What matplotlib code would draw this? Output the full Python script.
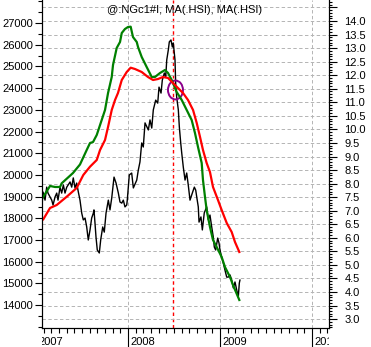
#!/usr/bin/env python3
"""Natural gas front month against two Hang Seng moving averages."""

import matplotlib

matplotlib.use("Agg")
import matplotlib.pyplot as plt
import numpy as np
from matplotlib.patches import Ellipse
from matplotlib.ticker import FixedLocator, MultipleLocator
from matplotlib.transforms import Bbox, TransformedBbox, blended_transform_factory

plt.rcParams["font.family"] = ["Liberation Sans", "DejaVu Sans"]

# time is in decimal years
ma_fast_t = [2007.062, 2007.152, 2007.207, 2007.261, 2007.279, 2007.402, 2007.478, 2007.551,
             2007.587, 2007.620, 2007.660, 2007.714, 2007.750, 2007.783, 2007.823, 2007.837,
             2007.877, 2007.913, 2007.932, 2007.967, 2008.000, 2008.029, 2008.054, 2008.095,
             2008.109, 2008.149, 2008.203, 2008.258, 2008.293, 2008.348, 2008.402, 2008.435,
             2008.475, 2008.529, 2008.584, 2008.638, 2008.692, 2008.728, 2008.761, 2008.801,
             2008.815, 2008.837, 2008.855, 2008.891, 2008.924, 2008.964, 2009.018, 2009.054,
             2009.109, 2009.141, 2009.210]
ma_fast = [18876, 19489, 19443, 19443, 19613, 20088, 20480, 21148,
           21470, 21516, 21839, 22530, 22991, 23774, 24512, 25065,
           25848, 26124, 26539, 26724, 26816, 26830, 26355, 26124,
           25894, 25433, 24972, 24512, 24512, 24696, 24834, 24696,
           24373, 23820, 23452, 22991, 22530, 21931, 21286, 20549,
           19765, 18982, 18383, 17600, 17001, 16678, 16217, 15756,
           15296, 14927, 14236]

ma_slow_t = [2007.079, 2007.152, 2007.225, 2007.334, 2007.442, 2007.514, 2007.587, 2007.660,
             2007.696, 2007.750, 2007.783, 2007.823, 2007.859, 2007.891, 2007.932, 2007.986,
             2008.029, 2008.076, 2008.149, 2008.217, 2008.272, 2008.326, 2008.380, 2008.435,
             2008.489, 2008.543, 2008.598, 2008.652, 2008.707, 2008.747, 2008.783, 2008.815,
             2008.855, 2008.891, 2008.924, 2008.978, 2009.018, 2009.073, 2009.127, 2009.163,
             2009.210]
ma_slow = [17954, 18475, 18613, 18996, 19397, 19996, 20378, 20687,
           21148, 21609, 22208, 22991, 23452, 23774, 24373, 24742,
           24940, 24880, 24742, 24512, 24373, 24419, 24512, 24466,
           24235, 24005, 23774, 23452, 22991, 22392, 21747, 21148,
           20549, 20134, 19443, 18844, 18383, 17784, 17369, 16908,
           16448]

ng_t = [2007.062, 2007.076, 2007.098, 2007.116, 2007.130, 2007.171, 2007.185, 2007.207,
        2007.225, 2007.239, 2007.261, 2007.279, 2007.297, 2007.315, 2007.334, 2007.370,
        2007.388, 2007.405, 2007.424, 2007.442, 2007.460, 2007.478, 2007.497, 2007.514,
        2007.533, 2007.551, 2007.568, 2007.587, 2007.605, 2007.623, 2007.630, 2007.641,
        2007.652, 2007.666, 2007.688, 2007.703, 2007.725, 2007.742, 2007.761, 2007.786,
        2007.804, 2007.823, 2007.848, 2007.870, 2007.895, 2007.913, 2007.932, 2007.949,
        2007.967, 2007.986, 2007.992, 2008.014, 2008.040, 2008.058, 2008.095, 2008.112,
        2008.130, 2008.149, 2008.166, 2008.185, 2008.221, 2008.239, 2008.258, 2008.275,
        2008.301, 2008.323, 2008.337, 2008.359, 2008.373, 2008.395, 2008.410, 2008.421,
        2008.438, 2008.449, 2008.467, 2008.482, 2008.492, 2008.511, 2008.518, 2008.529,
        2008.547, 2008.558, 2008.573, 2008.584, 2008.601, 2008.620, 2008.638, 2008.655,
        2008.674, 2008.699, 2008.721, 2008.736, 2008.747, 2008.764, 2008.772, 2008.793,
        2008.808, 2008.829, 2008.855, 2008.873, 2008.891, 2008.910, 2008.927, 2008.938,
        2008.953, 2008.975, 2008.989, 2009.000, 2009.018, 2009.036, 2009.054, 2009.073,
        2009.090, 2009.109, 2009.127, 2009.145, 2009.163, 2009.182, 2009.199, 2009.210,
        2009.217]
ng = [7.03, 7.69, 7.39, 7.87, 7.65, 7.39, 7.21, 7.51,
      7.65, 7.39, 7.87, 7.65, 7.95, 7.65, 7.87, 8.06,
      7.87, 8.21, 7.84, 8.02, 7.69, 7.39, 6.91, 6.66,
      6.73, 6.40, 5.92, 6.29, 6.73, 6.91, 7.03, 6.55,
      6.03, 5.55, 5.44, 5.92, 6.40, 6.21, 6.91, 7.39,
      7.03, 7.47, 8.24, 8.02, 7.65, 7.32, 7.28, 7.39,
      7.14, 7.21, 7.39, 8.32, 8.39, 7.84, 8.13, 8.50,
      8.80, 9.50, 9.35, 10.24, 9.98, 10.35, 10.05, 10.72,
      11.08, 10.97, 11.56, 11.34, 11.82, 12.08, 11.93, 12.56,
      12.93, 13.23, 13.30, 13.04, 13.19, 12.56, 11.71, 11.20,
      10.72, 10.09, 9.50, 9.13, 8.61, 8.13, 8.39, 7.95,
      7.39, 7.65, 7.87, 7.76, 7.51, 7.14, 6.58, 6.77,
      6.29, 6.92, 7.14, 6.66, 6.84, 6.40, 6.03, 5.66,
      5.55, 5.99, 5.81, 5.55, 5.29, 5.07, 4.81, 4.55,
      4.55, 4.63, 4.44, 4.15, 4.37, 4.07, 3.82, 4.33,
      4.44]

title = "@:NGc1#I, MA(.HSI), MA(.HSI)"
years = [2007, 2008, 2009, 2010]
marker_t = 2008.492          # red dashed line
circle_t, circle_v = 2008.516, 23913  # purple ring where the averages cross

fig = plt.figure(figsize=(3.71, 3.47), dpi=100)
ax = fig.add_axes([42 / 371, 1 - 328 / 347, 287 / 371, 328 / 347])
ax2 = ax.twinx()
ax.set_zorder(ax2.get_zorder() + 1)
ax.patch.set_visible(False)

GRID = dict(color="#b4b4b4", lw=0.7, linestyle=(0, (3.5, 2.5)), zorder=0)
for yr in years:
    ax2.axvline(yr, **GRID)
ax2.set_yticks(np.arange(3.0, 14.51, 0.5))
ax2.yaxis.grid(True, **GRID)
ax2.axvline(marker_t, color="red", lw=1.0, linestyle=(0, (2.5, 2)), zorder=1)

ax2.plot(ng_t, ng, color="black", lw=1.0, zorder=2)
ax.plot(ma_fast_t, ma_fast, color="#008000", lw=1.6)
ax.plot(ma_slow_t, ma_slow, color="#ff0000", lw=1.6)
ax.add_patch(Ellipse((circle_t, circle_v), 0.163, 870, fill=False, ec="#8b008b", lw=1.4))

ax.set_xlim(2007.065, 2010.185)
ax.set_ylim(12945, 28060)
ax2.set_ylim(2.672, 14.775)

# x axis: long year ticks, short month ticks, labels drawn by hand
ax.xaxis.set_major_locator(FixedLocator(years))
ax.xaxis.set_minor_locator(MultipleLocator(1 / 12))
ax.tick_params(axis="x", which="major", length=14, width=0.8, labelbottom=False)
ax.tick_params(axis="x", which="minor", length=3.6, width=0.8)

ax.yaxis.set_major_locator(MultipleLocator(1000))
ax.yaxis.set_minor_locator(MultipleLocator(500))
ax.set_yticks(np.arange(14000, 27001, 1000))
ax.tick_params(axis="y", which="major", length=5, width=0.8, pad=1.5, labelsize=8)
ax.tick_params(axis="y", which="minor", length=3, width=0.8)

ax2.yaxis.set_minor_locator(MultipleLocator(0.1))
ax2.set_yticklabels([f"{v:.1f}" if v < 14.25 else "" for v in np.arange(3.0, 14.51, 0.5)])
ax2.tick_params(axis="y", which="major", length=6, width=0.8, pad=5, labelsize=8)
ax2.tick_params(axis="y", which="minor", length=2.5, width=0.8)

for a in (ax, ax2):
    a.spines["top"].set_visible(False)
    for s in ("left", "right", "bottom"):
        a.spines[s].set_linewidth(0.8)

clip = TransformedBbox(Bbox([[42 / 371, 0], [329 / 371, 1]]), fig.transFigure)
trans = blended_transform_factory(ax.transData, fig.transFigure)
for yr in years:
    t = fig.text(yr + 0.025, 1 - 337 / 347, str(yr), transform=trans, ha="left", va="top", fontsize=8)
    t.set_clip_box(clip)
    t.set_clip_on(True)

fig.text(185 / 371, 1 - 10 / 347, title, ha="center", va="center", fontsize=8)

fig.savefig("out.png", dpi=100, facecolor="white")
